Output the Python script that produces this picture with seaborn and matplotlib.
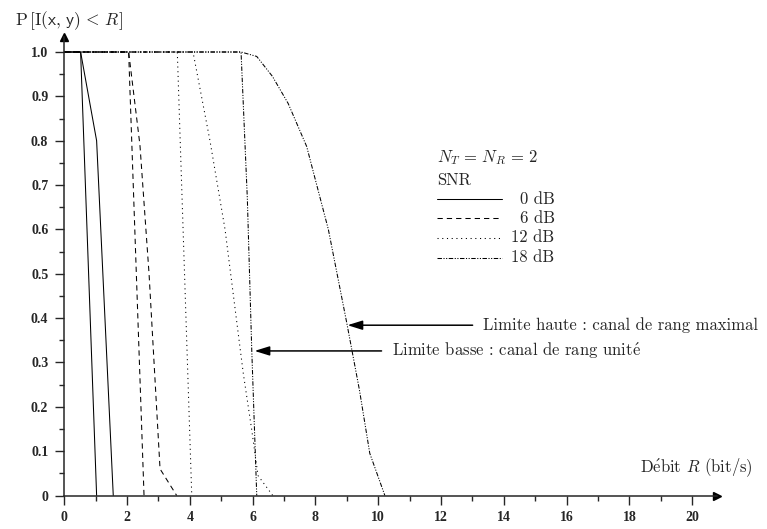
import numpy as np
import pandas as pd
import matplotlib
matplotlib.use("Agg")
import matplotlib.pyplot as plt
import seaborn as sns

# ── données : P[I(x,y) < R] en fonction du débit R ──
# limite basse = canal de rang unité, limite haute = canal de rang maximal
R_0dB_bas = [0.0, 0.52, 1.03]
P_0dB_bas = [1.0, 1.0, 0.0]
R_0dB_haut = [0.0, 0.52, 1.03, 1.56]
P_0dB_haut = [1.0, 1.0, 0.80, 0.0]

R_6dB_bas = [0.0, 2.05, 2.54]
P_6dB_bas = [1.0, 1.0, 0.0]
R_6dB_haut = [0.0, 2.05, 2.41, 2.70, 3.05, 3.58]
P_6dB_haut = [1.0, 1.0, 0.79, 0.50, 0.06, 0.0]

R_12dB_bas = [0.0, 3.60, 4.06]
P_12dB_bas = [1.0, 1.0, 0.0]
R_12dB_haut = [0.0, 4.10, 4.64, 5.12, 5.70, 5.97, 6.17, 6.64]
P_12dB_haut = [1.0, 1.0, 0.80, 0.60, 0.276, 0.148, 0.045, 0.0]

R_18dB_bas = [0.0, 5.63, 5.83, 5.97, 6.13]
P_18dB_bas = [1.0, 1.0, 0.67, 0.33, 0.0]
R_18dB_haut = [0.0, 5.63, 6.13, 6.63, 7.13, 7.72, 8.41, 9.00, 9.40, 9.73, 10.21]
P_18dB_haut = [1.0, 1.0, 0.99, 0.945, 0.884, 0.787, 0.60, 0.388, 0.238, 0.095, 0.0]

snr_labels = ["0 dB", "6 dB", "12 dB", "18 dB"]
x_ticks = list(range(0, 21, 2))
x_ticklabels = [str(v) for v in x_ticks]
y_ticks = [round(0.1 * i, 1) for i in range(11)]
y_ticklabels = ["0"] + [f"{v:.1f}" for v in y_ticks[1:]]

# ── style ──
sns.set_style("ticks")
plt.rcParams["font.family"] = ["cmr10", "Liberation Serif", "DejaVu Serif"]
plt.rcParams["mathtext.fontset"] = "cm"
plt.rcParams["axes.formatter.use_mathtext"] = True
plt.rcParams["lines.scale_dashes"] = False

styles = [
    "-",
    (0, (3.8, 2.9)),
    (0, (0.8, 2.6)),
    (0, (3.2, 1.1, 0.8, 1.1, 0.8, 1.1)),
]
lw = 0.75
fs = 12
E_AIGU = r"$\acute{\mathrm{e}}$"
tick_font = dict(family="Liberation Serif", weight="bold", size=10)

fig = plt.figure(figsize=(7.67, 5.29), dpi=100)
ax = fig.add_axes([0.0838, 0.0633, 0.8515, 0.8669])

courbes = [
    (R_0dB_bas, P_0dB_bas, R_0dB_haut, P_0dB_haut),
    (R_6dB_bas, P_6dB_bas, R_6dB_haut, P_6dB_haut),
    (R_12dB_bas, P_12dB_bas, R_12dB_haut, P_12dB_haut),
    (R_18dB_bas, P_18dB_bas, R_18dB_haut, P_18dB_haut),
]
for (rb, pb, rh, ph), ls in zip(courbes, styles):
    for r, p in [(rb, pb), (rh, ph)]:
        sns.lineplot(x=r, y=p, ax=ax, color="black", linewidth=lw,
                     linestyle=ls, sort=False, estimator=None, clip_on=False)

# ── axes avec flèches ──
ax.set_xlim(0, 20.8)
ax.set_ylim(0, 1.034)
ax.spines["top"].set_visible(False)
ax.spines["right"].set_visible(False)
for s in ["left", "bottom"]:
    ax.spines[s].set_linewidth(1.1)
ax.plot(1, 0, ">k", ms=6, transform=ax.get_yaxis_transform(), clip_on=False)
ax.plot(0, 1, "^k", ms=6, transform=ax.get_xaxis_transform(), clip_on=False)

ax.set_xticks(x_ticks)
ax.set_xticklabels(x_ticklabels, fontdict=tick_font)
ax.set_xticks(range(1, 21, 2), minor=True)
ax.set_yticks(y_ticks)
ax.set_yticklabels(y_ticklabels, fontdict=tick_font)
ax.set_yticks([0.05 + 0.1 * i for i in range(10)], minor=True)
ax.tick_params(which="major", length=6.5, width=1.0, direction="out", pad=5)
ax.tick_params(which="minor", length=3.5, width=1.0, direction="out")

# ── titres des axes ──
fig.text(15 / 767, 1 - 21 / 529,
         r"P$\,[\mathrm{I}(\mathsf{x},\,\mathsf{y})\,<\,R]$",
         fontsize=12.5, ha="left", va="center")
fig.text(753 / 767, 1 - 468 / 529, "D" + E_AIGU + r"bit $R$ (bit/s)",
         fontsize=fs, ha="right", va="center")

# ── légende ──
ax.text(11.86, 0.763, r"$N_T\,=\,N_R\,=\,2$", fontsize=fs, ha="left", va="center")
ax.text(11.86, 0.711, "SNR", fontsize=fs, ha="left", va="center")
leg_y = [0.668, 0.626, 0.581, 0.536]
for yy, ls, lab in zip(leg_y, styles, snr_labels):
    ax.plot([11.86, 13.93], [yy, yy], color="black", lw=lw, linestyle=ls)
    ax.text(15.62, yy, lab, fontsize=fs, ha="right", va="center")

# ── annotations ──
fleche = dict(arrowstyle="-|>,head_length=0.9,head_width=0.28", color="black",
              lw=1.1, shrinkA=5, shrinkB=0, mutation_scale=10)
ax.annotate("Limite haute : canal de rang maximal", xy=(9.02, 0.384),
            xytext=(13.33, 0.384), fontsize=fs, ha="left", va="center",
            arrowprops=fleche)
ax.annotate("Limite basse : canal de rang unit" + E_AIGU, xy=(6.06, 0.326),
            xytext=(10.43, 0.326), fontsize=fs, ha="left", va="center",
            arrowprops=fleche)

plt.savefig("out.png", dpi=100)
